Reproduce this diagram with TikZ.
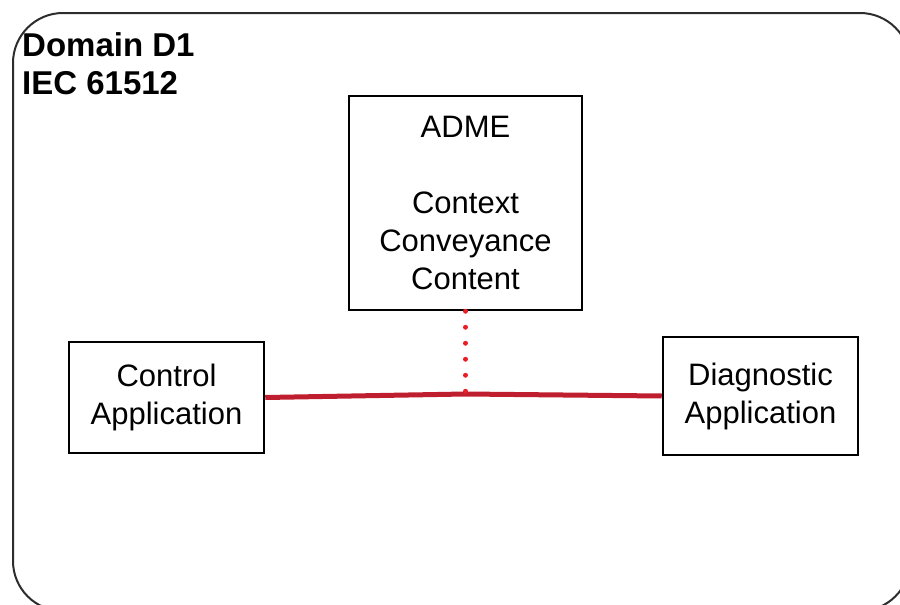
\documentclass[tikz,border=0pt]{standalone}
\usepackage{fontspec}
\setmainfont{Liberation Sans}
\usetikzlibrary{positioning}
\definecolor{linkred}{RGB}{190,30,45}
\definecolor{dotred}{RGB}{232,32,42}
\definecolor{framegray}{RGB}{45,45,45}
\begin{document}
\begin{tikzpicture}[x=1pt, y=-1pt, font=\fontsize{31}{38}\selectfont,
    box/.style={draw, line width=2.5pt, align=center, inner sep=0pt},
    link/.style={linkred, line width=5pt},
    dots/.style={dotred, line width=5pt, line cap=round, dash pattern=on 0pt off 16pt}]
    \useasboundingbox (0,0) rectangle (900,605);
    \clip (0,0) rectangle (900,605);
    \draw[framegray, line width=2pt, rounded corners=50pt] (13,13) rectangle (910,611);

    \node[anchor=north west, align=left, inner sep=0pt, font=\fontsize{33}{38}\selectfont\bfseries] (dom) at (22,32) {Domain D1\\IEC 61512};

    \node[box, minimum width=233pt, minimum height=214pt] (adme) at (465.5,203) {ADME\\[38pt]Context\\Conveyance\\Content};
    \node[box, minimum width=195pt, minimum height=111pt] (ctrl) at (166.5,397.5) {Control\\Application};
    \node[box, minimum width=195pt, minimum height=118pt] (diag) at (760.5,396) {Diagnostic\\Application};

    \coordinate (j) at (adme.south |- 0,394);
    \draw[link] (ctrl.east) -- (j) -- (diag.west);
    \draw[dots] (adme.south) -- (j);
\end{tikzpicture}
\end{document}
